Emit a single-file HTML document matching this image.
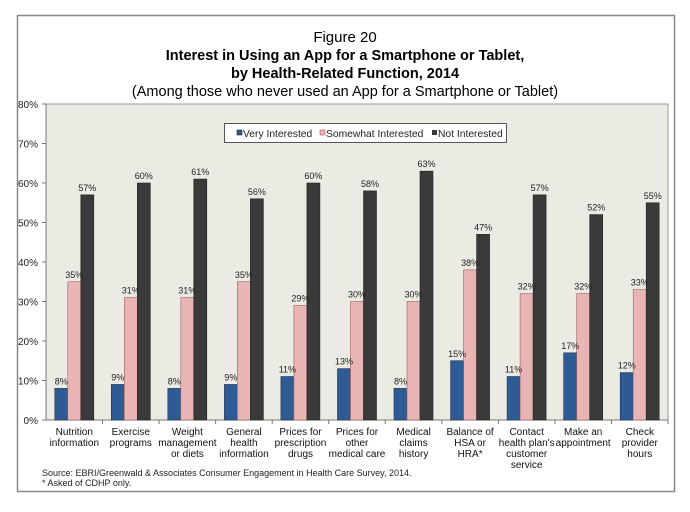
<!DOCTYPE html>
<html><head><meta charset="utf-8"><style>
body{margin:0;background:#fff;}
svg{display:block;font-family:"Liberation Sans",Arial,sans-serif;}
</style></head><body>
<svg width="690" height="512" viewBox="0 0 690 512" xmlns="http://www.w3.org/2000/svg">
<rect x="17.5" y="15.5" width="657" height="476" fill="#fff" stroke="#888" stroke-width="1.5"/>
<g text-anchor="middle" fill="#000">
<text x="345" y="42" font-size="15">Figure 20</text>
<text x="345" y="60" font-size="14.5" font-weight="bold">Interest in Using an App for a Smartphone or Tablet,</text>
<text x="345" y="78" font-size="14.5" font-weight="bold">by Health-Related Function, 2014</text>
<text x="345" y="96" font-size="14.5">(Among those who never used an App for a Smartphone or Tablet)</text>
</g>
<rect x="46" y="104" width="622" height="316" fill="#ecebe3" stroke="#999" stroke-width="1"/>
<line x1="46" y1="104" x2="46" y2="420" stroke="#777"/>
<line x1="46" y1="420" x2="668" y2="420" stroke="#777"/>
<g font-size="10" fill="#222" text-anchor="end">
<text x="38" y="424">0%</text><text x="38" y="384.5">10%</text><text x="38" y="345">20%</text><text x="38" y="305.5">30%</text><text x="38" y="266">40%</text><text x="38" y="226.5">50%</text><text x="38" y="187">60%</text><text x="38" y="147.5">70%</text><text x="38" y="108">80%</text>
</g>
<g stroke="#777">
<line x1="42" y1="420" x2="46" y2="420"/><line x1="42" y1="380.5" x2="46" y2="380.5"/><line x1="42" y1="341" x2="46" y2="341"/><line x1="42" y1="301.5" x2="46" y2="301.5"/><line x1="42" y1="262" x2="46" y2="262"/><line x1="42" y1="222.5" x2="46" y2="222.5"/><line x1="42" y1="183" x2="46" y2="183"/><line x1="42" y1="143.5" x2="46" y2="143.5"/><line x1="42" y1="104" x2="46" y2="104"/>
<line x1="102.5" y1="420" x2="102.5" y2="424"/><line x1="159.1" y1="420" x2="159.1" y2="424"/><line x1="215.6" y1="420" x2="215.6" y2="424"/><line x1="272.2" y1="420" x2="272.2" y2="424"/><line x1="328.7" y1="420" x2="328.7" y2="424"/><line x1="385.3" y1="420" x2="385.3" y2="424"/><line x1="441.8" y1="420" x2="441.8" y2="424"/><line x1="498.4" y1="420" x2="498.4" y2="424"/><line x1="554.9" y1="420" x2="554.9" y2="424"/><line x1="611.5" y1="420" x2="611.5" y2="424"/><line x1="668" y1="420" x2="668" y2="424"/>
</g>
<!-- Very -->
<g fill="#2e5b93" stroke="#1c2f4d" stroke-width="0.6">
<rect x="54.8" y="388.4" width="13" height="31.6"/>
<rect x="111.3" y="384.45" width="13" height="35.55"/>
<rect x="167.8" y="388.4" width="13" height="31.6"/>
<rect x="224.4" y="384.45" width="13" height="35.55"/>
<rect x="280.9" y="376.55" width="13" height="43.45"/>
<rect x="337.5" y="368.65" width="13" height="51.35"/>
<rect x="394.0" y="388.4" width="13" height="31.6"/>
<rect x="450.6" y="360.75" width="13" height="59.25"/>
<rect x="507.1" y="376.55" width="13" height="43.45"/>
<rect x="563.7" y="352.85" width="13" height="67.15"/>
<rect x="620.2" y="372.6" width="13" height="47.4"/>
</g>
<!-- Somewhat -->
<g fill="#e8b4b4" stroke="#a06060" stroke-width="0.6">
<rect x="67.8" y="281.75" width="13" height="138.25"/>
<rect x="124.3" y="297.55" width="13" height="122.45"/>
<rect x="180.8" y="297.55" width="13" height="122.45"/>
<rect x="237.4" y="281.75" width="13" height="138.25"/>
<rect x="293.9" y="305.45" width="13" height="114.55"/>
<rect x="350.5" y="301.5" width="13" height="118.5"/>
<rect x="407.0" y="301.5" width="13" height="118.5"/>
<rect x="463.6" y="269.9" width="13" height="150.1"/>
<rect x="520.1" y="293.6" width="13" height="126.4"/>
<rect x="576.7" y="293.6" width="13" height="126.4"/>
<rect x="633.2" y="289.65" width="13" height="130.35"/>
</g>
<!-- Not -->
<g fill="#3a3a3a" stroke="#222" stroke-width="0.6">
<rect x="80.8" y="194.85" width="13" height="225.15"/>
<rect x="137.3" y="183" width="13" height="237"/>
<rect x="193.8" y="179.05" width="13" height="240.95"/>
<rect x="250.4" y="198.8" width="13" height="221.2"/>
<rect x="306.9" y="183" width="13" height="237"/>
<rect x="363.5" y="190.9" width="13" height="229.1"/>
<rect x="420.0" y="171.15" width="13" height="248.85"/>
<rect x="476.6" y="234.35" width="13" height="185.65"/>
<rect x="533.1" y="194.85" width="13" height="225.15"/>
<rect x="589.7" y="214.6" width="13" height="205.4"/>
<rect x="646.2" y="202.75" width="13" height="217.25"/>
</g>
<g font-size="9" fill="#222" text-anchor="middle">
<text x="61.3" y="384.4">8%</text><text x="117.8" y="380.5">9%</text><text x="174.3" y="384.4">8%</text><text x="230.9" y="380.5">9%</text><text x="287.4" y="372.6">11%</text><text x="344" y="364.7">13%</text><text x="400.5" y="384.4">8%</text><text x="457.1" y="356.8">15%</text><text x="513.6" y="372.6">11%</text><text x="570.2" y="348.9">17%</text><text x="626.7" y="368.6">12%</text>
<text x="74.3" y="277.8">35%</text><text x="130.8" y="293.6">31%</text><text x="187.3" y="293.6">31%</text><text x="243.9" y="277.8">35%</text><text x="300.4" y="301.5">29%</text><text x="357" y="297.5">30%</text><text x="413.5" y="297.5">30%</text><text x="470.1" y="265.9">38%</text><text x="526.6" y="289.6">32%</text><text x="583.2" y="289.6">32%</text><text x="639.7" y="285.7">33%</text>
<text x="87.3" y="190.9">57%</text><text x="143.8" y="179">60%</text><text x="200.3" y="175">61%</text><text x="256.9" y="194.8">56%</text><text x="313.4" y="179">60%</text><text x="370" y="186.9">58%</text><text x="426.5" y="167.2">63%</text><text x="483.1" y="230.4">47%</text><text x="539.6" y="190.9">57%</text><text x="596.2" y="210.6">52%</text><text x="652.7" y="198.8">55%</text>
</g>
<g font-size="10" fill="#111" text-anchor="middle">
<text x="74.3" y="435">Nutrition</text><text x="74.3" y="446">information</text>
<text x="130.8" y="435">Exercise</text><text x="130.8" y="446">programs</text>
<text x="187.4" y="435">Weight</text><text x="187.4" y="446">management</text><text x="187.4" y="457">or diets</text>
<text x="243.9" y="435">General</text><text x="243.9" y="446">health</text><text x="243.9" y="457">information</text>
<text x="300.5" y="435">Prices for</text><text x="300.5" y="446">prescription</text><text x="300.5" y="457">drugs</text>
<text x="357" y="435">Prices for</text><text x="357" y="446">other</text><text x="357" y="457">medical care</text>
<text x="413.6" y="435">Medical</text><text x="413.6" y="446">claims</text><text x="413.6" y="457">history</text>
<text x="470.1" y="435">Balance of</text><text x="470.1" y="446">HSA or</text><text x="470.1" y="457">HRA*</text>
<text x="526.7" y="435">Contact</text><text x="526.7" y="446">health plan's</text><text x="526.7" y="457">customer</text><text x="526.7" y="468">service</text>
<text x="583.2" y="435">Make an</text><text x="583.2" y="446">appointment</text>
<text x="639.8" y="435">Check</text><text x="639.8" y="446">provider</text><text x="639.8" y="457">hours</text>
</g>
<rect x="224.5" y="123.5" width="282" height="19" fill="#fff" stroke="#555"/>
<g font-size="10.3" fill="#222">
<rect x="237" y="130" width="5" height="5" fill="#2e5b93" stroke="#223" stroke-width="0.6"/><text x="243" y="137">Very Interested</text>
<rect x="320" y="130" width="5" height="5" fill="#e8b4b4" stroke="#a66" stroke-width="0.6"/><text x="326" y="137">Somewhat Interested</text>
<rect x="432" y="130" width="5" height="5" fill="#3a3a3a"/><text x="438" y="137">Not Interested</text>
</g>
<g font-size="9" fill="#222">
<text x="42" y="476">Source: EBRI/Greenwald &amp; Associates Consumer Engagement in Health Care Survey, 2014.</text>
<text x="42" y="486">* Asked of CDHP only.</text>
</g>
</svg>
</body></html>
